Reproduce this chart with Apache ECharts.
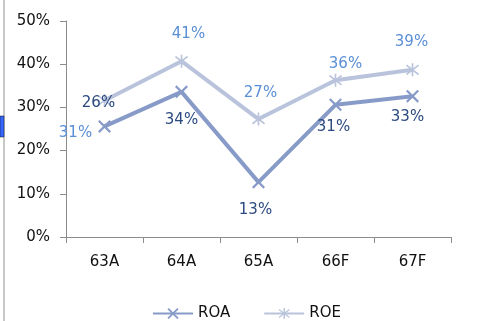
<!DOCTYPE html>
<html>
<head>
<meta charset="utf-8">
<script src="https://cdn.jsdelivr.net/npm/echarts@6/dist/echarts.min.js"></script>
<style>
  html, body { margin: 0; padding: 0; background: #fff; }
  #chart { width: 486px; height: 321px; }
</style>
</head>
<body>
<div id="chart"></div>
<script>
// values (percent)
var categories = ['63A', '64A', '65A', '66F', '67F'];
var roaValues = [25.6, 33.6, 12.7, 30.6, 32.6];
var roeValues = [31.6, 40.7, 27.3, 36.3, 38.7];
var roaLabels = ['26%', '34%', '13%', '31%', '33%'];
var roeLabels = ['31%', '41%', '27%', '36%', '39%'];

var roaColor = '#889bc8';
var roeColor = '#b9c3dc';
var roaText = '#2b4a80';
var roeText = '#5a8fd6';
var font = 'DejaVu Sans';

// label placement relative to each point (the original had hand-moved labels)
var roaLabelOffsets = [[-6, -23], [0, 28], [-3, 28], [-2, 22], [-5, 21]];
var roeLabelOffsets = [[-29, 33], [7, -27], [2, -26], [10, -16], [-1, -28]];

var crossPath = 'path://M0,1.2L1.2,0L10,8.8L8.8,10Z M8.8,0L10,1.2L1.2,10L0,8.8Z';
var starPath = 'path://M4.4,0H5.6V10H4.4Z M0.3,1.9L0.9,0.9L9.7,8.1L9.1,9.1Z M9.1,0.9L9.7,1.9L0.9,9.1L0.3,8.1Z';

var myChart = echarts.init(document.getElementById('chart'));

function buildData(values, labels, offsets) {
    return values.map(function (v, i) {
        return { value: v, label: { formatter: labels[i], offset: offsets[i] } };
    });
}

var option = {
    animation: false,
    textStyle: { fontFamily: font },
    grid: { left: 66, right: 35, top: 21, bottom: 84 },
    graphic: [
        // spreadsheet edge left over in the screenshot
        { type: 'rect', shape: { x: 3, y: 0, width: 2, height: 321 }, style: { fill: '#c8c8c8' } },
        { type: 'rect', shape: { x: 0, y: 116, width: 4, height: 21 }, style: { fill: '#3366ff', stroke: '#111', lineWidth: 0.5 } }
    ],
    legend: {
        left: 147,
        top: 301,
        itemWidth: 40,
        itemHeight: 14,
        itemGap: 33,
        textStyle: { fontSize: 15, color: '#111', fontFamily: font },
        data: ['ROA', 'ROE']
    },
    xAxis: {
        type: 'category',
        data: categories,
        boundaryGap: true,
        axisLine: { lineStyle: { color: '#8c8c8c', width: 1 } },
        axisTick: { show: true, length: 6, inside: false, lineStyle: { color: '#8c8c8c' } },
        axisLabel: { margin: 18, fontSize: 15, color: '#111', fontFamily: font },
        splitLine: { show: false }
    },
    yAxis: {
        type: 'value',
        min: 0,
        max: 50,
        interval: 10,
        axisLine: { show: true, lineStyle: { color: '#8c8c8c', width: 1 } },
        axisTick: { show: true, length: 6, lineStyle: { color: '#8c8c8c' } },
        axisLabel: { margin: 16, fontSize: 15, color: '#111', fontFamily: font, formatter: '{value}%' },
        splitLine: { show: false }
    },
    series: [
        {
            name: 'ROA',
            type: 'line',
            data: buildData(roaValues, roaLabels, roaLabelOffsets),
            symbol: crossPath,
            symbolSize: 13,
            lineStyle: { color: roaColor, width: 4 },
            itemStyle: { color: roaColor },
            label: {
                show: true,
                position: 'inside',
                fontSize: 15,
                color: roaText,
                fontFamily: font
            },
            z: 3
        },
        {
            name: 'ROE',
            type: 'line',
            data: buildData(roeValues, roeLabels, roeLabelOffsets),
            symbol: starPath,
            symbolSize: 13,
            lineStyle: { color: roeColor, width: 4 },
            itemStyle: { color: roeColor },
            label: {
                show: true,
                position: 'inside',
                fontSize: 15,
                color: roeText,
                fontFamily: font
            },
            z: 2
        }
    ]
};

myChart.setOption(option);
</script>
</body>
</html>
